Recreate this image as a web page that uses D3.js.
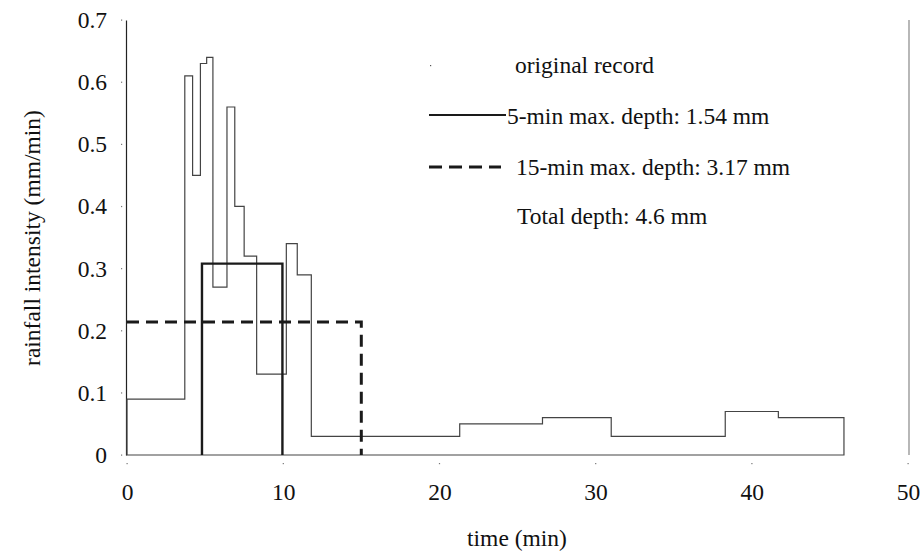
<!DOCTYPE html>
<html>
<head>
<meta charset="utf-8">
<script src="https://cdn.jsdelivr.net/npm/d3@7"></script>
<style>
  body { margin: 0; background: #fff; }
  text { font-family: "Liberation Serif", "Times New Roman", serif; fill: #111; }
</style>
</head>
<body>
<div id="chart"></div>
<script>
// original record: step starts (min) and intensities (mm/min)
var recordTimes = [0, 3.7, 4.2, 4.7, 5.1, 5.5, 6.4, 6.9, 7.5, 8.3, 10.2, 10.9, 11.8, 21.3, 26.6, 31.0, 38.3, 41.7, 45.9];
var recordValues = [0.09, 0.61, 0.45, 0.63, 0.64, 0.27, 0.56, 0.40, 0.32, 0.13, 0.34, 0.29, 0.03, 0.05, 0.06, 0.03, 0.07, 0.06, 0.06];

// max-depth windows
var fiveMinWindow = [4.8, 9.95];
var fiveMinIntensity = 0.308;
var fifteenMinWindow = [0, 15];
var fifteenMinIntensity = 0.214;

var xTicks = [0, 10, 20, 30, 40, 50];
var yTicks = [0, 0.1, 0.2, 0.3, 0.4, 0.5, 0.6, 0.7];

var legendLabels = ["original record", "5-min max. depth: 1.54 mm", "15-min max. depth: 3.17 mm", "Total depth: 4.6 mm"];

var width = 922, height = 552;
var margin = { top: 20, right: 14, bottom: 97, left: 127 };
var fontSize = "23.5px";

var svg = d3.select("#chart").append("svg")
    .attr("width", width)
    .attr("height", height);

var x = d3.scaleLinear().domain([0, 50]).range([margin.left, width - margin.right]);
var y = d3.scaleLinear().domain([0, 0.7]).range([height - margin.bottom, margin.top]);

// y axis: line + labels
var yAxis = svg.append("g")
    .attr("transform", "translate(" + (margin.left - 1) + ",0)")
    .call(d3.axisLeft(y).tickValues(yTicks).tickSize(0).tickSizeOuter(0).tickPadding(19)
        .tickFormat(function (d) { return d === 0 ? "0" : d3.format(".1f")(d); }));
yAxis.select(".domain").attr("stroke", "#222").attr("stroke-width", 1.2);
yAxis.selectAll("text").style("font-family", "Liberation Serif").style("font-size", fontSize).attr("fill", "#111");

// x axis labels only
var xAxis = svg.append("g")
    .attr("transform", "translate(0," + y(0) + ")")
    .call(d3.axisBottom(x).tickValues(xTicks).tickSize(0).tickPadding(28));
xAxis.select(".domain").remove();
xAxis.selectAll("text").style("font-family", "Liberation Serif").style("font-size", fontSize).attr("fill", "#111");

// tiny tick dots
svg.selectAll(".ydot").data(yTicks).enter().append("rect")
    .attr("x", margin.left - 6).attr("y", function (d) { return y(d) - 0.5; })
    .attr("width", 1.2).attr("height", 1.2).attr("fill", "#777");
svg.selectAll(".xdot").data(xTicks).enter().append("rect")
    .attr("x", function (d) { return x(d) - 0.5; }).attr("y", y(0) + 8)
    .attr("width", 1.2).attr("height", 1.2).attr("fill", "#777");

// right frame line
svg.append("line")
    .attr("x1", x(50) + 1).attr("x2", x(50) + 1)
    .attr("y1", y(0.7)).attr("y2", y(0))
    .attr("stroke", "#888").attr("stroke-width", 1.2);

// original record as step outline
var recordData = recordTimes.map(function (t, i) { return { t: t, v: recordValues[i] }; });
var recordArea = d3.area()
    .curve(d3.curveStepAfter)
    .x(function (d) { return x(d.t); })
    .y0(y(0))
    .y1(function (d) { return y(d.v); });
svg.append("path")
    .datum(recordData)
    .attr("d", recordArea)
    .attr("fill", "none")
    .attr("stroke", "#444")
    .attr("stroke-width", 1.2);

var line = d3.line().x(function (d) { return x(d[0]); }).y(function (d) { return y(d[1]); });

// 5-min max window
svg.append("path")
    .attr("d", line([[fiveMinWindow[0], 0], [fiveMinWindow[0], fiveMinIntensity], [fiveMinWindow[1], fiveMinIntensity], [fiveMinWindow[1], 0]]))
    .attr("fill", "none")
    .attr("stroke", "#1a1a1a")
    .attr("stroke-width", 2.4);

// 15-min max window
svg.append("path")
    .attr("d", line([[fifteenMinWindow[0], fifteenMinIntensity], [fifteenMinWindow[1], fifteenMinIntensity], [fifteenMinWindow[1], 0]]))
    .attr("fill", "none")
    .attr("stroke", "#1a1a1a")
    .attr("stroke-width", 3)
    .attr("stroke-dasharray", "12,7");

// legend
var legend = svg.append("g");
legend.append("rect").attr("x", 430).attr("y", 65).attr("width", 1.2).attr("height", 1.2).attr("fill", "#555");
legend.append("line").attr("x1", 429).attr("x2", 506).attr("y1", 115).attr("y2", 115)
    .attr("stroke", "#1a1a1a").attr("stroke-width", 2);
legend.append("line").attr("x1", 429).attr("x2", 501).attr("y1", 167).attr("y2", 167)
    .attr("stroke", "#1a1a1a").attr("stroke-width", 3).attr("stroke-dasharray", "13,7");

var legendX = [515, 507, 516, 517];
var legendY = [73, 124, 175, 224];
legend.selectAll("text").data(legendLabels).enter().append("text")
    .attr("x", function (d, i) { return legendX[i]; })
    .attr("y", function (d, i) { return legendY[i]; })
    .style("font-size", fontSize)
    .text(function (d) { return d; });

// axis titles
svg.append("text")
    .attr("x", 517).attr("y", 546)
    .attr("text-anchor", "middle")
    .style("font-size", fontSize)
    .text("time (min)");

svg.append("text")
    .attr("transform", "translate(40,238) rotate(-90)")
    .attr("text-anchor", "middle")
    .style("font-size", fontSize)
    .text("rainfall intensity (mm/min)");
</script>
</body>
</html>
